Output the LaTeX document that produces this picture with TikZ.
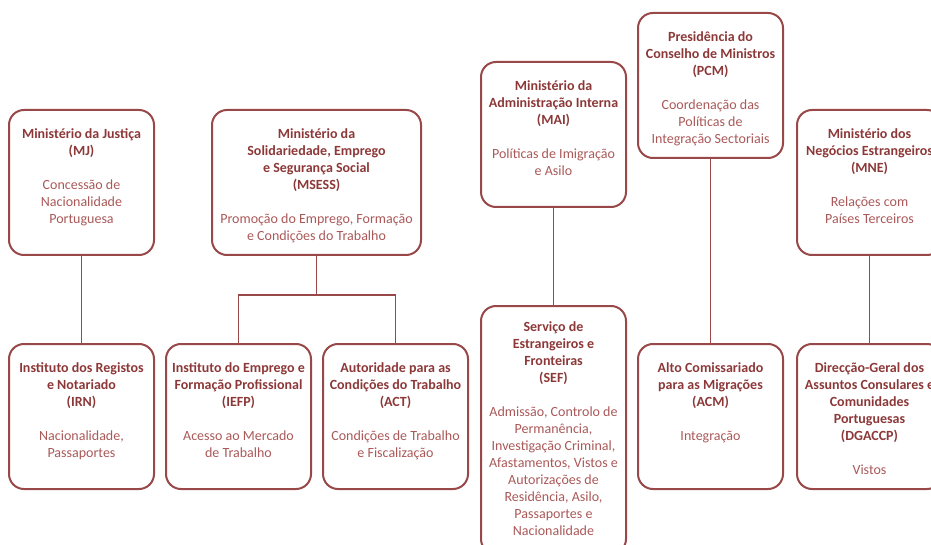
\documentclass[tikz,border=0pt]{standalone}
\usepackage{fontspec}
\setmainfont{Carlito}
\usetikzlibrary{positioning}
\definecolor{unitred}{RGB}{152,72,72}
\definecolor{titlered}{RGB}{140,56,56}
\definecolor{bodyred}{RGB}{170,88,88}
\newcommand{\unitname}[1]{\textcolor{titlered}{\textbf{#1}}}

\begin{document}
\begin{tikzpicture}[x=1pt, y=-1pt,
  unit/.style={draw=unitred, line width=2pt, rounded corners=15pt,
    minimum width=145pt, minimum height=145pt, inner sep=0pt, anchor=north},
  unittext/.style={anchor=north, align=center, inner sep=0pt,
    font=\fontsize{14}{17}\selectfont, text=bodyred},
  link/.style={draw=unitred, line width=1.2pt}]
\useasboundingbox (0,0) rectangle (931,545);

% Top row: ministries
\node[unit] (mj) at (81.5,109) {};
\node[unit, minimum width=209pt] (msess) at (316.5,109) {};
\node[unit] (mai) at (553.5,61) {};
\node[unit] (pcm) at (710.5,12) {};
\node[unit] (mne) at (869.5,109) {};

% Bottom row: agencies
\node[unit] (irn) at (81.5,343) {};
\node[unit] (iefp) at (238.5,343) {};
\node[unit] (act) at (395.5,343) {};
\node[unit, minimum height=248pt] (sef) at (553.5,305) {};
\node[unit] (acm) at (710.5,343) {};
\node[unit] (dgaccp) at (869.5,343) {};

% Links
\coordinate (msessfork) at (316.5,295);
\draw[link] (mj) -- (irn);
\draw[link] (msess) -- (msessfork);
\draw[link] (msessfork) -| (iefp);
\draw[link] (msessfork) -| (act);
\draw[link] (mai) -- (sef);
\draw[link] (pcm) -- (acm);
\draw[link] (mne) -- (dgaccp);

% Texts
\node[unittext] (mjtext) at ([yshift=-19.5pt]mj.north)
  {\unitname{Ministério da Justiça}\\\unitname{(MJ)}\\[17pt]
   Concessão de\\Nacionalidade\\Portuguesa};
\node[unittext] (msesstext) at ([yshift=-19.5pt]msess.north)
  {\unitname{Ministério da}\\\unitname{Solidariedade, Emprego}\\
   \unitname{e Segurança Social}\\\unitname{(MSESS)}\\[17pt]
   Promoção do Emprego, Formação\\e Condições do Trabalho};
\node[unittext] (maitext) at ([yshift=-19.5pt]mai.north)
  {\unitname{Ministério da}\\\unitname{Administração Interna}\\\unitname{(MAI)}\\[17pt]
   Políticas de Imigração\\e Asilo};
\node[unittext] (pcmtext) at ([yshift=-19.5pt]pcm.north)
  {\unitname{Presidência do}\\\unitname{Conselho de Ministros}\\\unitname{(PCM)}\\[17pt]
   Coordenação das\\Políticas de\\Integração Sectoriais};
\node[unittext] (mnetext) at ([yshift=-19.5pt]mne.north)
  {\unitname{Ministério dos}\\\unitname{Negócios Estrangeiros}\\\unitname{(MNE)}\\[17pt]
   Relações com\\Países Terceiros};
\node[unittext] (irntext) at ([yshift=-19.5pt]irn.north)
  {\unitname{Instituto dos Registos}\\\unitname{e Notariado}\\\unitname{(IRN)}\\[17pt]
   Nacionalidade,\\Passaportes};
\node[unittext] (iefptext) at ([yshift=-19.5pt]iefp.north)
  {\unitname{Instituto do Emprego e}\\\unitname{Formação Profissional}\\\unitname{(IEFP)}\\[17pt]
   Acesso ao Mercado\\de Trabalho};
\node[unittext] (acttext) at ([yshift=-19.5pt]act.north)
  {\unitname{Autoridade para as}\\\unitname{Condições do Trabalho}\\\unitname{(ACT)}\\[17pt]
   Condições de Trabalho\\e Fiscalização};
\node[unittext] (seftext) at ([yshift=-16pt]sef.north)
  {\unitname{Serviço de}\\\unitname{Estrangeiros e}\\\unitname{Fronteiras}\\\unitname{(SEF)}\\[17pt]
   Admissão, Controlo de\\Permanência,\\Investigação Criminal,\\Afastamentos, Vistos e\\
   Autorizações de\\Residência, Asilo,\\Passaportes e\\Nacionalidade};
\node[unittext] (acmtext) at ([yshift=-19.5pt]acm.north)
  {\unitname{Alto Comissariado}\\\unitname{para as Migrações}\\\unitname{(ACM)}\\[17pt]
   Integração};
\node[unittext] (dgaccptext) at ([yshift=-19.5pt]dgaccp.north)
  {\unitname{Direcção-Geral dos}\\\unitname{Assuntos Consulares e}\\\unitname{Comunidades}\\
   \unitname{Portuguesas}\\\unitname{(DGACCP)}\\[17pt]
   Vistos};
\end{tikzpicture}
\end{document}
